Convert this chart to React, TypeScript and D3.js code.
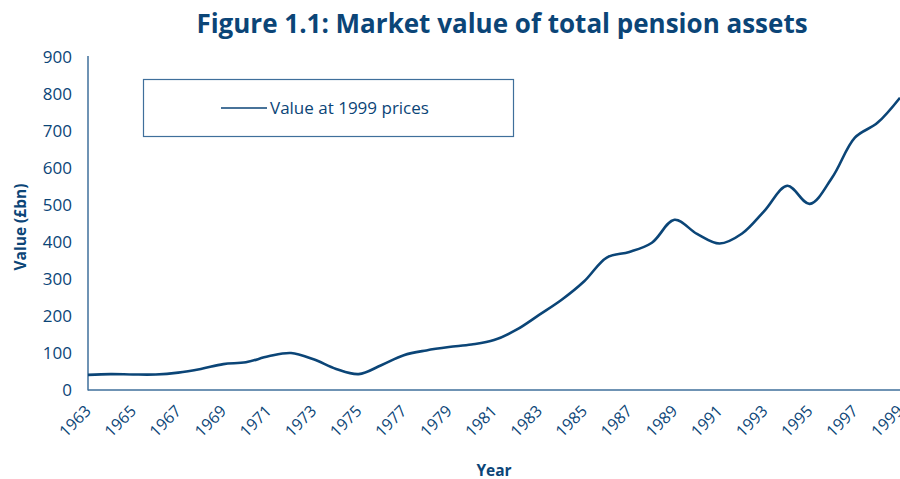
import React from "react";
import * as d3 from "d3";

const years: number[] = [
  1963, 1964, 1965, 1966, 1967, 1968, 1969, 1970, 1971, 1972, 1973, 1974, 1975,
  1976, 1977, 1978, 1979, 1980, 1981, 1982, 1983, 1984, 1985, 1986, 1987, 1988,
  1989, 1990, 1991, 1992, 1993, 1994, 1995, 1996, 1997, 1998, 1999,
];
const values: number[] = [
  41, 43, 42, 42, 47, 57, 70, 75, 91, 100, 83, 57, 43,
  67, 94, 107, 116, 123, 135, 163, 203, 244, 294, 358, 373, 398,
  460, 422, 396, 423, 485, 552, 503, 575, 682, 722, 790,
];
const yTicks: number[] = [0, 100, 200, 300, 400, 500, 600, 700, 800, 900];
const xTickYears: number[] = years.filter((y) => (y - 1963) % 2 === 0);

const title = "Figure 1.1: Market value of total pension assets";
const seriesName = "Value at 1999 prices";
const xTitle = "Year";
const yTitle = "Value (£bn)";

const W = 900;
const H = 479;
const FONT = "'Open Sans', 'Noto Sans', sans-serif";
const DARK = "#0b4577";
const AXIS = "#3f6f9b";

export default function App() {
  const x = d3.scaleLinear().domain([1963, 1999]).range([88, 900]);
  const y = d3.scaleLinear().domain([0, 900]).range([390, 57]);
  const line = d3
    .line<number>()
    .x((_, i) => x(years[i]))
    .y((d) => y(d))
    .curve(d3.curveCatmullRom.alpha(0.5));

  return (
    <svg
      width={W}
      height={H}
      style={{ position: "absolute", left: 0, top: 0, background: "#fff" }}
      fontFamily={FONT}
    >
      <text
        x={502}
        y={33}
        textAnchor="middle"
        fontSize={26}
        fontWeight="bold"
        fill={DARK}
      >
        {title}
      </text>

      {/* y axis tick labels */}
      {yTicks.map((t) => (
        <text
          key={t}
          x={72}
          y={y(t)}
          dy="0.35em"
          textAnchor="end"
          fontSize={17}
          fill={DARK}
        >
          {t}
        </text>
      ))}
      <text
        transform={`translate(26,${227}) rotate(-90)`}
        textAnchor="middle"
        fontSize={15.5}
        fontWeight="bold"
        fill={DARK}
      >
        {yTitle}
      </text>

      {/* x tick labels */}
      {xTickYears.map((yr) => (
        <text
          key={yr}
          transform={`translate(${x(yr) + 4},${412}) rotate(-45)`}
          textAnchor="end"
          fontSize={16}
          fill={DARK}
        >
          {yr}
        </text>
      ))}
      <text
        x={494}
        y={476}
        textAnchor="middle"
        fontSize={15.5}
        fontWeight="bold"
        fill={DARK}
      >
        {xTitle}
      </text>

      {/* axes */}
      <line x1={88} x2={88} y1={56} y2={390.5} stroke={AXIS} strokeWidth={1.5} />
      <line x1={88} x2={900} y1={390} y2={390} stroke={AXIS} strokeWidth={1.5} />

      {/* series */}
      <path
        d={line(values) || ""}
        fill="none"
        stroke={DARK}
        strokeWidth={2.6}
        strokeLinejoin="round"
      />

      {/* legend */}
      <rect
        x={143.5}
        y={79.5}
        width={370}
        height={57}
        fill="#fff"
        stroke={AXIS}
        strokeWidth={1.2}
      />
      <line x1={221} x2={267} y1={108} y2={108} stroke={DARK} strokeWidth={1.3} />
      <text x={270} y={108} dy="0.35em" fontSize={17} fill={DARK}>
        {seriesName}
      </text>
    </svg>
  );
}
